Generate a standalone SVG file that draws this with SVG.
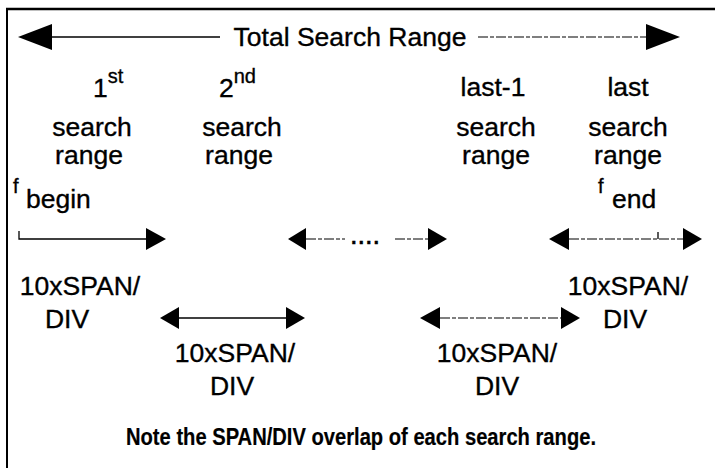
<svg xmlns="http://www.w3.org/2000/svg" width="715" height="468" viewBox="0 0 715 468">
<style>
text{font-family:"Liberation Sans",Arial,sans-serif;fill:#000;stroke:#000;stroke-width:0.35;}
.t{font-size:26.5px;}
.m{text-anchor:middle;}
.sup{font-size:20px;}
.f{font-size:20px;}
.note{font-size:23px;font-weight:bold;stroke-width:0.2;}
.ln{stroke:#000;stroke-width:1.3;fill:none;}
.dl{stroke:#000;stroke-width:1.2;fill:none;stroke-dasharray:10 2 4 2;}
.ah{fill:#000;}
</style>
<rect width="715" height="468" fill="#fff"/>
<g id="frame">
<line x1="7" y1="9" x2="7" y2="468" stroke="#000" stroke-width="2"/>
<line x1="6" y1="9" x2="715" y2="9" stroke="#000" stroke-width="2.5"/>
</g>
<g id="connectors">
<g id="total-arrow">
<polygon class="ah" points="18,37 52,24 52,50"/>
<line class="ln" x1="52" y1="37" x2="220" y2="37"/>
<line class="dl" x1="478" y1="37" x2="646" y2="37"/>
<polygon class="ah" points="646,24 680,37 646,50"/>
</g>
<g id="first-range">
<polyline class="ln" points="19,231 19,239 146,239"/>
<polygon class="ah" points="146,228 166,239 146,250"/>
</g>
<g id="middle-range">
<polygon class="ah" points="288,239 306,228 306,250"/>
<line class="dl" x1="306" y1="239" x2="345" y2="239"/>
<line class="dl" x1="395" y1="239" x2="428" y2="239"/>
<polygon class="ah" points="428,228 447,239 428,250"/>
</g>
<g id="last-range">
<polygon class="ah" points="549,239 569,228 569,250"/>
<line class="dl" x1="569" y1="239" x2="683" y2="239"/>
<line class="ln" x1="658" y1="232" x2="658" y2="239"/>
<polygon class="ah" points="683,228 702,239 683,250"/>
</g>
<g id="overlap-2">
<polygon class="ah" points="160,318 179,307 179,329"/>
<line class="ln" x1="179" y1="318" x2="286" y2="318"/>
<polygon class="ah" points="286,307 305,318 286,329"/>
</g>
<g id="overlap-last">
<polygon class="ah" points="420,318 440,307 440,329"/>
<line class="dl" x1="440" y1="318" x2="561" y2="318"/>
<polygon class="ah" points="561,307 580,318 561,329"/>
</g>
</g>
<g id="title">
<text class="t m" x="350" y="46">Total Search Range</text>
</g>
<g id="col1">
<text class="t" x="93" y="97">1<tspan class="sup" dy="-14">st</tspan></text>
<text class="t m" x="92" y="136">search</text>
<text class="t m" x="89" y="164">range</text>
<text class="f" x="13" y="193">f</text>
<text class="t" x="26" y="208">begin</text>
</g>
<g id="col2">
<text class="t" x="219" y="97">2<tspan class="sup" dy="-14">nd</tspan></text>
<text class="t m" x="242" y="136">search</text>
<text class="t m" x="239" y="164">range</text>
</g>
<g id="col3">
<text class="t m" x="493" y="96">last-1</text>
<text class="t m" x="496" y="136">search</text>
<text class="t m" x="496" y="164">range</text>
</g>
<g id="col4">
<text class="t m" x="628" y="96">last</text>
<text class="t m" x="628" y="136">search</text>
<text class="t m" x="628" y="164">range</text>
<text class="f" x="598" y="193">f</text>
<text class="t" x="612" y="208">end</text>
</g>
<g id="span1">
<text class="t m" x="80" y="295">10xSPAN/</text>
<text class="t m" x="67" y="328">DIV</text>
</g>
<g id="span4">
<text class="t m" x="628" y="295">10xSPAN/</text>
<text class="t m" x="625" y="328">DIV</text>
</g>
<g id="span2">
<text class="t m" x="235" y="362">10xSPAN/</text>
<text class="t m" x="232" y="395">DIV</text>
</g>
<g id="span3">
<text class="t m" x="497" y="362">10xSPAN/</text>
<text class="t m" x="497" y="395">DIV</text>
</g>
<g id="note">
<text class="note m" x="361" y="445" textLength="470" lengthAdjust="spacingAndGlyphs">Note the SPAN/DIV overlap of each search range.</text>
</g>
<text x="366" y="244" style="font-size:20px;font-weight:bold;letter-spacing:2px;" class="m">....</text>
</svg>
